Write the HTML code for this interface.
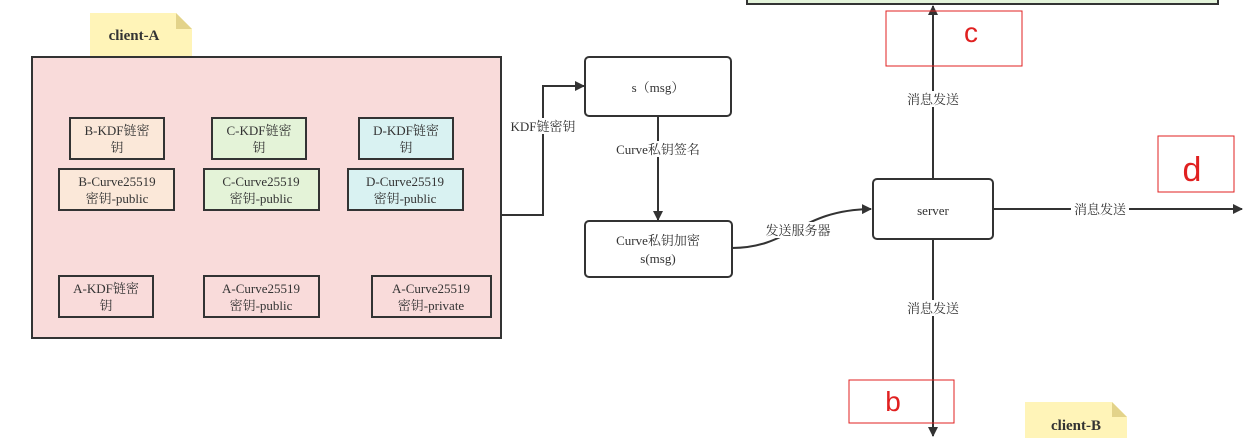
<!DOCTYPE html>
<html><head><meta charset="utf-8"><style>
html,body{margin:0;padding:0;background:#fff;}
svg{display:block;}
text{font-family:"Liberation Serif","Noto Serif CJK SC","Noto Sans CJK SC",serif;fill:#333;}
</style></head><body>
<svg width="1244" height="438" viewBox="0 0 1244 438" xmlns="http://www.w3.org/2000/svg">
<defs>
<marker id="ar" markerWidth="10" markerHeight="10" refX="9" refY="5" orient="auto" markerUnits="userSpaceOnUse">
<path d="M0,0 L10,5 L0,10 Z" fill="#333"/></marker>
</defs>
<!-- top green box -->
<rect x="747" y="-10" width="471" height="14" fill="#e3f3da" stroke="#333" stroke-width="2"/>
<!-- client-A note -->
<path d="M90,13 H176 L192,29 V57 H90 Z" fill="#fff4b8"/>
<path d="M176,13 V29 H192 Z" fill="#e3d38a"/>
<text x="134" y="40" font-size="15" font-weight="bold" text-anchor="middle" fill="#222">client-A</text>
<!-- big rect -->
<rect x="32" y="57" width="469" height="281" fill="#f9dbda" stroke="#333" stroke-width="2"/>
<g font-size="13" text-anchor="middle">
<rect x="70" y="118" width="94" height="41" fill="#fbe8d9" stroke="#333" stroke-width="2"/>
<text x="117" y="135">B-KDF链密</text><text x="117" y="152">钥</text>
<rect x="212" y="118" width="94" height="41" fill="#e4f3d8" stroke="#333" stroke-width="2"/>
<text x="259" y="135">C-KDF链密</text><text x="259" y="152">钥</text>
<rect x="359" y="118" width="94" height="41" fill="#d9f2f2" stroke="#333" stroke-width="2"/>
<text x="406" y="135">D-KDF链密</text><text x="406" y="152">钥</text>
<rect x="59" y="169" width="115" height="41" fill="#fbe8d9" stroke="#333" stroke-width="2"/>
<text x="117" y="186">B-Curve25519</text><text x="117" y="203">密钥-public</text>
<rect x="204" y="169" width="115" height="41" fill="#e4f3d8" stroke="#333" stroke-width="2"/>
<text x="261" y="186">C-Curve25519</text><text x="261" y="203">密钥-public</text>
<rect x="348" y="169" width="115" height="41" fill="#d9f2f2" stroke="#333" stroke-width="2"/>
<text x="405" y="186">D-Curve25519</text><text x="405" y="203">密钥-public</text>
<rect x="59" y="276" width="94" height="41" fill="#f9dbda" stroke="#333" stroke-width="2"/>
<text x="106" y="293">A-KDF链密</text><text x="106" y="310">钥</text>
<rect x="204" y="276" width="115" height="41" fill="#f9dbda" stroke="#333" stroke-width="2"/>
<text x="261" y="293">A-Curve25519</text><text x="261" y="310">密钥-public</text>
<rect x="372" y="276" width="119" height="41" fill="#f9dbda" stroke="#333" stroke-width="2"/>
<text x="431" y="293">A-Curve25519</text><text x="431" y="310">密钥-private</text>
</g>
<!-- connector KDF -->
<path d="M501,215 H543 V86 H584" fill="none" stroke="#333" stroke-width="2" marker-end="url(#ar)"/>
<rect x="508" y="118" width="70" height="16" fill="#fff"/>
<text x="543" y="131" font-size="13" text-anchor="middle">KDF链密钥</text>
<!-- s(msg) -->
<rect x="585" y="57" width="146" height="59" rx="4" fill="#fff" stroke="#333" stroke-width="2"/>
<text x="658" y="92" font-size="13" text-anchor="middle">s（msg）</text>
<path d="M658,116 V220" stroke="#333" stroke-width="2" marker-end="url(#ar)"/>
<rect x="612" y="141" width="92" height="16" fill="#fff"/>
<text x="658" y="154" font-size="13" text-anchor="middle">Curve私钥签名</text>
<rect x="585" y="221" width="147" height="56" rx="4" fill="#fff" stroke="#333" stroke-width="2"/>
<text x="658" y="245" font-size="13" text-anchor="middle">Curve私钥加密</text>
<text x="658" y="263" font-size="13" text-anchor="middle">s(msg)</text>
<!-- curve to server -->
<path d="M732,248 C790,248 800,210 871,209" fill="none" stroke="#333" stroke-width="2" marker-end="url(#ar)"/>
<rect x="764" y="222" width="68" height="16" fill="#fff"/>
<text x="798" y="235" font-size="13" text-anchor="middle">发送服务器</text>
<!-- server -->
<rect x="873" y="179" width="120" height="60" rx="4" fill="#fff" stroke="#333" stroke-width="2"/>
<text x="933" y="215" font-size="13" text-anchor="middle">server</text>
<path d="M933,179 V6" stroke="#333" stroke-width="2" marker-end="url(#ar)"/>
<path d="M933,239 V436" stroke="#333" stroke-width="2" marker-end="url(#ar)"/>
<path d="M993,209 H1242" stroke="#333" stroke-width="2" marker-end="url(#ar)"/>
<rect x="904" y="91" width="58" height="16" fill="#fff"/>
<text x="933" y="104" font-size="13" text-anchor="middle">消息发送</text>
<rect x="904" y="300" width="58" height="16" fill="#fff"/>
<text x="933" y="313" font-size="13" text-anchor="middle">消息发送</text>
<rect x="1071" y="201" width="58" height="16" fill="#fff"/>
<text x="1100" y="214" font-size="13" text-anchor="middle">消息发送</text>
<!-- red boxes -->
<rect x="886" y="11" width="136" height="55" fill="none" stroke="#e02020" stroke-width="1"/>
<text x="971" y="42" font-size="28" font-family="Liberation Sans,sans-serif" text-anchor="middle" style="fill:#e02020;font-family:'Liberation Sans',sans-serif">c</text>
<rect x="1158" y="136" width="76" height="56" fill="none" stroke="#e02020" stroke-width="1"/>
<text x="1192" y="181" font-size="34" text-anchor="middle" style="fill:#e02020;font-family:'Liberation Sans',sans-serif">d</text>
<rect x="849" y="380" width="105" height="43" fill="none" stroke="#e02020" stroke-width="1"/>
<text x="893" y="411" font-size="28" text-anchor="middle" style="fill:#e02020;font-family:'Liberation Sans',sans-serif">b</text>
<!-- client-B note -->
<path d="M1025,402 H1112 L1127,417 V438 H1025 Z" fill="#fff4b8"/>
<path d="M1112,402 V417 H1127 Z" fill="#e3d38a"/>
<text x="1076" y="430" font-size="15" font-weight="bold" text-anchor="middle" fill="#222">client-B</text>
</svg>
</body></html>
